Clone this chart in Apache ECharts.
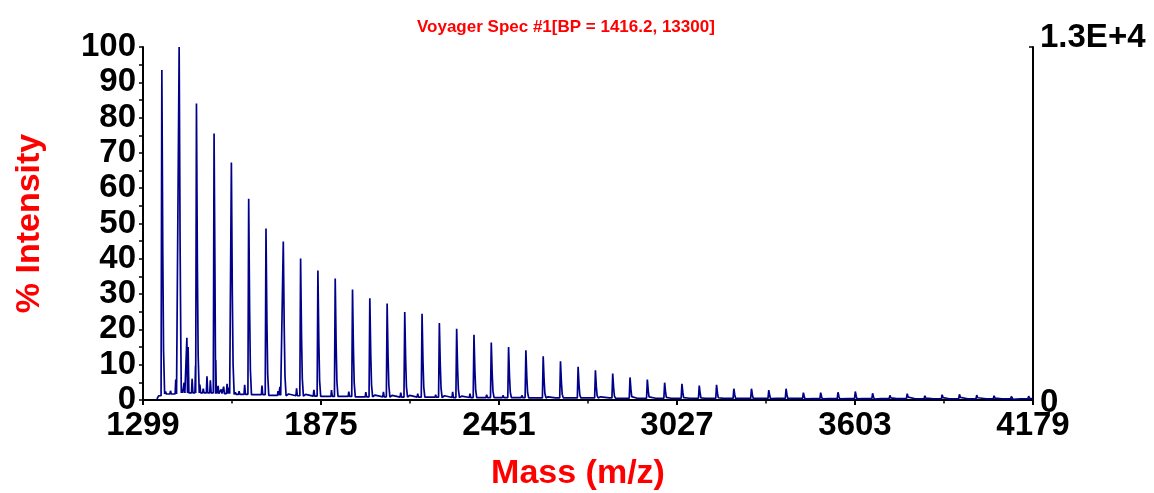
<!DOCTYPE html>
<html>
<head>
<meta charset="utf-8">
<script src="https://cdn.jsdelivr.net/npm/echarts@6/dist/echarts.min.js"></script>
<style>
html,body{margin:0;padding:0;background:#fff;}
#c{width:1154px;height:493px;}
</style>
</head>
<body>
<div id="c"></div>
<script>
// Main peak series (m/z, % intensity)
const peakMass = [1360,1416,1472,1529,1585,1641,1697,1753,1809,1865,1921,1977,2033,2089,2146,2202,2258,2314,2370,2426,2482,2538,2594,2650,2707,2763,2819,2875,2931,2987,3043,3099,3155,3211,3268,3324,3380,3436,3492,3548,3604,3660,3716,3772,3829,3885,3941,3997,4053,4109,4165];
const peakInt = [93.5,100,84,75.5,67.3,57,48.6,44.9,40.1,36.7,34.4,31.3,28.8,27.3,24.9,24.4,21.8,20.2,18.5,16.3,15.0,14.1,12.4,11.0,9.4,8.4,7.5,6.4,5.8,4.9,4.6,4.1,4.3,3.2,3.2,2.8,3.2,2.1,2.1,2.2,2.4,1.9,1.3,1.8,1.2,1.5,1.6,1.4,1.2,1.0,1.1];
// Minor / satellite peaks and baseline noise spikes
const satMass = [1352,1372,1388,1405,1425,1432,1441,1445,1458,1469,1483,1494,1506,1517,1536,1542,1552,1560,1571,1577,1598,1610,1628,1652,1666,1684,1712,1736,1742,1770,1796,1825,1852,1880,1909,1940,1965,1995,2020,2050,2077,2105,2133,2162,2188,2220,2246,2275,2301,2330,2357,2390,2411,2440,2464,2500,2525,2560,2583,2610,2636,2670,2697,2740,2780,2810,2860,2900,2960,3010,3070,3120,3180,3240,3300,3350,3410,3470,3520,3580,3630,3690,3740,3800,3860,3910,3970,4030,4080,4140];
const satInt = [1.6,2.4,2.6,5.8,3.0,4.9,17.6,15,6.0,9.8,4.4,3.2,6.7,5.6,3.4,4.0,3.0,3.8,4.6,3.5,2.2,2.5,4.3,1.9,2.0,4.1,1.8,2.5,3.7,1.7,3.3,1.6,2.9,1.5,2.8,1.5,2.4,1.4,2.2,1.4,2.3,1.3,2.1,1.3,1.8,1.2,1.5,1.2,2.3,1.1,1.8,1.1,1.5,1.0,1.3,1.0,1.3,1.0,1.1,0.9,1.1,0.9,1.0,0.9,0.9,0.9,0.8,0.8,0.8,0.7,0.8,0.7,0.7,0.7,0.7,0.6,0.7,0.6,0.6,0.6,0.6,0.6,0.6,0.55,0.55,0.55,0.55,0.55,0.5,0.5];
// Baseline level in each gap (before first peak, between peaks, after last peak)
const gapBase = [1.2,1.7,2.0,2.0,1.8,1.6,1.5,1.3,1.2,1.1,1.0,1.0,0.9,0.9,0.8,0.8,0.8,0.7,0.7,0.7,0.7,0.7,0.6,0.6,0.6,0.6,0.6,0.5,0.5,0.5,0.5,0.5,0.5,0.45,0.45,0.45,0.45,0.45,0.4,0.4,0.4,0.4,0.4,0.4,0.35,0.35,0.35,0.35,0.35,0.35,0.35,0.35];
const traceStart = [1344, 0.3];
const massMin = 1299, massMax = 4179, massStep = 576;
const rightMax = 13300;
const rightLabels = ['0', '1.3E+4'];
const titleText = 'Voyager Spec #1[BP = 1416.2, 13300]';

function gapOf(m){
  let g = 0;
  for (let i = 0; i < peakMass.length; i++) { if (m > peakMass[i]) g = i + 1; }
  return gapBase[g];
}
const pts = [];
pts.push(traceStart);
peakMass.forEach((m, i) => {
  const h = peakInt[i];
  pts.push([m - 2.5, gapBase[i]]);
  pts.push([m, h]);
  pts.push([m + 3, h * 0.45]);
  pts.push([m + 5.5, h * 0.15]);
  pts.push([m + 9, gapBase[i + 1]]);
});
satMass.forEach((m, i) => {
  const b = gapOf(m);
  pts.push([m - 2, b]);
  pts.push([m, satInt[i]]);
  pts.push([m + 2.5, b]);
});
pts.push([massMax, gapBase[gapBase.length - 1]]);
pts.sort((a, b) => a[0] - b[0]);

const FONT = 'Liberation Sans, Arial, Helvetica, sans-serif';
const chart = echarts.init(document.getElementById('c'));
chart.setOption({
  animation: false,
  backgroundColor: '#fff',
  title: {
    text: titleText, left: 412, top: 14,
    textStyle: {color: '#ff0000', fontSize: 17, fontWeight: 'bold', fontFamily: FONT}
  },
  grid: {left: 143, right: 121, top: 47, bottom: 93, containLabel: false, outerBoundsMode: 'none'},
  xAxis: {
    type: 'value', min: massMin, max: massMax, interval: massStep,
    name: 'Mass (m/z)', nameLocation: 'middle', nameGap: 57,
    nameTextStyle: {color: '#ff0000', fontSize: 34, fontWeight: 'bold', fontFamily: FONT, padding: [0, 20, 0, 0]},
    axisLine: {show: true, onZero: false, lineStyle: {color: '#000', width: 2}},
    axisTick: {show: true, length: 5, lineStyle: {color: '#000', width: 2}},
    minorTick: {show: true, splitNumber: 2, length: 3.5, lineStyle: {color: '#000', width: 1.5}},
    splitLine: {show: false},
    axisLabel: {color: '#000', fontSize: 33, fontWeight: 'bold', fontFamily: FONT, margin: 9,
      showMinLabel: true, showMaxLabel: true, formatter: v => String(v)}
  },
  yAxis: [{
    type: 'value', min: 0, max: 100, interval: 10, position: 'left',
    name: '% Intensity', nameLocation: 'middle', nameRotate: 90, nameGap: 96,
    nameTextStyle: {color: '#ff0000', fontSize: 34, fontWeight: 'bold', fontFamily: FONT},
    axisLine: {show: true, lineStyle: {color: '#000', width: 2}},
    axisTick: {show: true, length: 4, lineStyle: {color: '#000', width: 1.5}},
    minorTick: {show: true, splitNumber: 2, length: 4, lineStyle: {color: '#000', width: 1.5}},
    splitLine: {show: false},
    axisLabel: {color: '#000', fontSize: 33, fontWeight: 'bold', fontFamily: FONT, margin: 7, padding: [5, 0, 0, 0]}
  }, {
    type: 'value', min: 0, max: rightMax, interval: rightMax, position: 'right',
    axisLine: {show: true, lineStyle: {color: '#000', width: 2}},
    axisTick: {show: true, inside: true, length: 4, lineStyle: {color: '#000', width: 1.5}},
    splitLine: {show: false},
    axisLabel: {
      margin: 7,
      formatter: v => v === 0 ? '{z|' + rightLabels[0] + '}' : '{t|' + rightLabels[1] + '}',
      rich: {
        z: {color: '#000', fontSize: 33, fontWeight: 'bold', fontFamily: FONT, padding: [5, 0, 0, 0]},
        t: {color: '#000', fontSize: 33, fontWeight: 'bold', fontFamily: FONT, padding: [0, 0, 18, 0]}
      }
    }
  }],
  series: [{
    type: 'line', data: pts, yAxisIndex: 0, showSymbol: false, symbol: 'none',
    sampling: false, clip: true,
    lineStyle: {color: '#00008b', width: 1.7}
  }]
});
</script>
</body>
</html>
